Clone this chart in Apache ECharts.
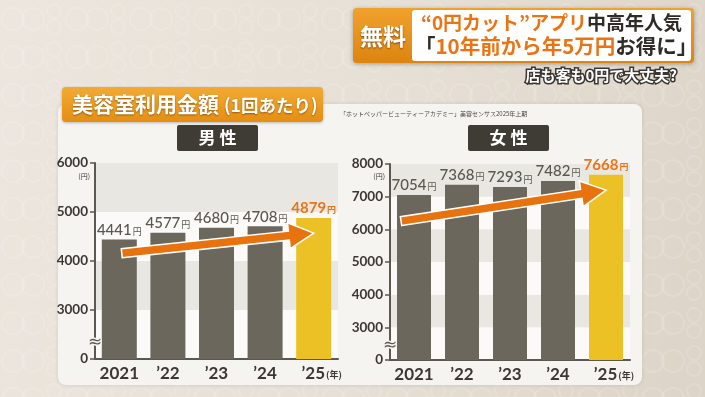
<!DOCTYPE html>
<html>
<head>
<meta charset="utf-8">
<script src="https://cdn.jsdelivr.net/npm/echarts@6.0.0/dist/echarts.min.js"></script>
<style>
  html, body { margin: 0; padding: 0; }
  #chart { width: 705px; height: 397px; }
</style>
</head>
<body>
<div id="chart"></div>
<script>
// data
const categories = ['2021', '’22', '’23', '’24', '’25'];
const maleValues = [4441, 4577, 4680, 4708, 4879];
const femaleValues = [7054, 7368, 7293, 7482, 7668];
const maleTicks = ['0', '3000', '4000', '5000', '6000'];
const femaleTicks = ['0', '3000', '4000', '5000', '6000', '7000', '8000'];
// arrow: [startCategory, startValue, endCategory, endValue, startShift]
const maleArrow = [0, 4160, 4, 4570, 0.05];
const femaleArrow = [0, 6250, 4, 7200, -0.27];

const JP = '"Noto Sans CJK JP", sans-serif';
const NUM = 'Lato, "Noto Sans CJK JP", sans-serif';
const DARK = '#3b3833';
const BAR = '#6b675d';
const YELLOW = '#ecc126';
const ORANGE = '#e8761a';

// faint ring pattern for the page background
const tile = document.createElement('canvas');
tile.width = 64; tile.height = 38;
const tc = tile.getContext('2d');
tc.strokeStyle = 'rgba(255,255,255,0.13)';
tc.lineWidth = 2;
[[13, 19, 11], [33, 19, 11], [54, 11, 7], [54, 27, 7]].forEach(([x, y, r]) => {
  tc.beginPath(); tc.arc(x, y, r, 0, Math.PI * 2); tc.stroke();
});
document.getElementById('chart').style.background =
  'url(' + tile.toDataURL() + '), linear-gradient(100deg, #ece6de 0%, #e6dfd5 55%, #ddd4c8 100%)';

function barSeries(idx, values) {
  return {
    type: 'bar',
    xAxisIndex: idx,
    yAxisIndex: idx,
    barWidth: idx === 0 ? 35 : 34,
    data: values.map((v, i) => {
      const last = i === values.length - 1;
      return {
        value: v,
        itemStyle: { color: last ? YELLOW : BAR },
        label: {
          show: true,
          position: 'top',
          distance: 2,
          formatter: last ? '{n2|{c}}{u2|円}' : '{n|{c}}{u|円}',
          rich: {
            n: { fontFamily: NUM, fontSize: 15, fontWeight: 500, color: '#5a574f' },
            u: { fontFamily: JP, fontSize: 9, color: '#5a574f', padding: [3, 0, 0, 1] },
            n2: { fontFamily: NUM, fontSize: 15, fontWeight: 'bold', color: ORANGE },
            u2: { fontFamily: JP, fontSize: 9, fontWeight: 'bold', color: ORANGE, padding: [3, 0, 0, 1] }
          }
        }
      };
    })
  };
}

function arrowSeries(idx, arrow) {
  return {
    type: 'custom',
    xAxisIndex: idx,
    yAxisIndex: idx,
    z: 5,
    silent: true,
    data: [arrow],
    renderItem: function (params, api) {
      const band = api.size([1, 0])[0];
      const p0 = api.coord([api.value(0), api.value(1)]);
      p0[0] += api.value(4) * band;
      const p1 = api.coord([api.value(2), api.value(3)]);
      const dx = p1[0] - p0[0], dy = p1[1] - p0[1];
      const len = Math.sqrt(dx * dx + dy * dy);
      const ux = dx / len, uy = dy / len;
      const nx = -uy, ny = ux;
      const w = 4.5, hw = 13, hl = 25;
      const bx = p1[0] - ux * hl, by = p1[1] - uy * hl;
      const pts = [
        [p0[0] + nx * w, p0[1] + ny * w],
        [bx + nx * w, by + ny * w],
        [bx + nx * hw, by + ny * hw],
        [p1[0], p1[1]],
        [bx - nx * hw, by - ny * hw],
        [bx - nx * w, by - ny * w],
        [p0[0] - nx * w, p0[1] - ny * w]
      ];
      return {
        type: 'polygon',
        shape: { points: pts },
        style: { fill: '#e8730e', stroke: '#ffffff', lineWidth: 1.5 }
      };
    }
  };
}

function xAxis(idx) {
  return {
    type: 'category',
    gridIndex: idx,
    data: categories,
    axisLine: { lineStyle: { color: '#5b5850', width: 2 } },
    axisTick: { show: false },
    axisLabel: {
      interval: 0,
      margin: 6,
      formatter: (v, i) => i === categories.length - 1 ? '{p|}{b|' + v + '}{s|(年)}' : '{b|' + v + '}',
      rich: {
        b: { fontFamily: NUM, fontSize: 17, fontWeight: 'bold', color: DARK },
        s: { fontFamily: JP, fontSize: 9, fontWeight: 'bold', color: DARK, padding: [3, 0, 0, 1] },
        p: { width: 16 }
      }
    }
  };
}

function yAxis(idx, ticks, max) {
  const min = 2000;
  return {
    type: 'value',
    gridIndex: idx,
    min: min,
    max: max,
    interval: 1000,
    axisLine: { show: true, lineStyle: { color: '#5b5850', width: 2 } },
    axisTick: { show: true, length: 5, lineStyle: { color: '#5b5850', width: 1.5 } },
    axisLabel: {
      margin: 7,
      fontFamily: NUM,
      fontSize: 13.5,
      fontWeight: 'bold',
      color: DARK,
      formatter: v => ticks[Math.round((v - min) / 1000)]
    },
    splitLine: { show: false },
    splitArea: { show: true, areaStyle: { color: ['#fbfaf8', '#e9e7e2'] } }
  };
}

const chart = echarts.init(document.getElementById('chart'), null, { renderer: 'canvas' });
chart.setOption({
  backgroundColor: 'transparent',
  animation: false,
  grid: [
    { left: 95, right: 367, top: 163, bottom: 38 },
    { left: 390, right: 75, top: 164, bottom: 37 }
  ],
  xAxis: [xAxis(0), xAxis(1)],
  yAxis: [yAxis(0, maleTicks, 6000), yAxis(1, femaleTicks, 8000)],
  series: [
    barSeries(0, maleValues),
    barSeries(1, femaleValues),
    arrowSeries(0, maleArrow),
    arrowSeries(1, femaleArrow)
  ],
  graphic: [
    // white panel
    { type: 'rect', z: -10, shape: { x: 58, y: 104, width: 584, height: 281, r: 8 },
      style: { fill: '#f6f4f1', shadowBlur: 4, shadowColor: 'rgba(0,0,0,0.12)' } },
    // title box
    { type: 'rect', z: 10, shape: { x: 62, y: 87, width: 261, height: 35, r: 4 },
      style: { fill: new echarts.graphic.LinearGradient(0, 0, 0, 1, [
        { offset: 0, color: '#f2aa33' }, { offset: 1, color: '#e58e12' }]),
        shadowBlur: 3, shadowOffsetY: 1, shadowColor: 'rgba(0,0,0,0.25)' } },
    { type: 'text', z: 11, x: 72, y: 104,
      style: { text: '{a|美容室利用金額}{b|(1回あたり)}', verticalAlign: 'middle',
        rich: {
          a: { fontFamily: JP, fontSize: 21, fontWeight: 'bold', fill: '#fff',
               textShadowColor: 'rgba(90,50,0,0.6)', textShadowBlur: 2, textShadowOffsetY: 1 },
          b: { fontFamily: JP, fontSize: 17.5, fontWeight: 'bold', fill: '#fff', padding: [2, 0, 0, 5],
               textShadowColor: 'rgba(90,50,0,0.6)', textShadowBlur: 2, textShadowOffsetY: 1 }
        } } },
    // source
    { type: 'text', z: 11, x: 340, y: 114,
      style: { text: '「ホットペッパービューティーアカデミー」美容センサス2025年上期',
        fontFamily: JP, fontSize: 6, fill: '#4a4740', verticalAlign: 'middle' } },
    // section labels
    { type: 'rect', z: 10, shape: { x: 177, y: 125, width: 81, height: 26, r: 2 }, style: { fill: '#3f3c35' } },
    { type: 'text', z: 11, x: 217.5, y: 138,
      style: { text: '男 性', fontFamily: JP, fontSize: 17, fontWeight: 'bold', fill: '#fff', align: 'center', verticalAlign: 'middle' } },
    { type: 'rect', z: 10, shape: { x: 468, y: 125, width: 81, height: 26, r: 2 }, style: { fill: '#3f3c35' } },
    { type: 'text', z: 11, x: 508.5, y: 138,
      style: { text: '女 性', fontFamily: JP, fontSize: 17, fontWeight: 'bold', fill: '#fff', align: 'center', verticalAlign: 'middle' } },
    // unit marks
    { type: 'text', z: 11, x: 90, y: 176,
      style: { text: '(円)', fontFamily: JP, fontSize: 7, fill: DARK, align: 'right', verticalAlign: 'middle' } },
    { type: 'text', z: 11, x: 385, y: 176,
      style: { text: '(円)', fontFamily: JP, fontSize: 7, fill: DARK, align: 'right', verticalAlign: 'middle' } },
    // axis break marks
    { type: 'text', z: 100, x: 95, y: 343,
      style: { text: '≈', fontFamily: 'DejaVu Sans', fontSize: 17, fill: '#5b5850', align: 'center', verticalAlign: 'middle',
        stroke: '#f6f4f1', lineWidth: 3 } },
    { type: 'text', z: 100, x: 390, y: 346,
      style: { text: '≈', fontFamily: 'DejaVu Sans', fontSize: 17, fill: '#5b5850', align: 'center', verticalAlign: 'middle',
        stroke: '#f6f4f1', lineWidth: 3 } },
    // headline banner
    { type: 'rect', z: 10, shape: { x: 353, y: 8, width: 341, height: 55, r: 4 },
      style: { fill: new echarts.graphic.LinearGradient(0, 0, 0, 1, [
        { offset: 0, color: '#f0a22c' }, { offset: 1, color: '#dc8510' }]),
        shadowBlur: 4, shadowOffsetY: 1, shadowColor: 'rgba(0,0,0,0.3)' } },
    { type: 'rect', z: 11, shape: { x: 412, y: 10, width: 279, height: 51, r: 3 }, style: { fill: '#ffffff' } },
    { type: 'text', z: 12, x: 383, y: 36,
      style: { text: '無料', fontFamily: JP, fontSize: 23, fontWeight: 'bold', fill: '#fff', align: 'center', verticalAlign: 'middle',
        textShadowColor: 'rgba(80,40,0,0.7)', textShadowBlur: 2, textShadowOffsetY: 1 } },
    { type: 'text', z: 12, x: 421, y: 23,
      style: { text: '{o|“0円カット”アプリ}{d|中高年人気}', verticalAlign: 'middle',
        rich: {
          o: { fontFamily: JP, fontSize: 19, fontWeight: 'bold', fill: '#ea7414' },
          d: { fontFamily: JP, fontSize: 19, fontWeight: 'bold', fill: '#2f2c28' }
        } } },
    { type: 'text', z: 12, x: 415, y: 46,
      style: { text: '{d|「}{o|10年前から年5万円}{d|お得に」}', verticalAlign: 'middle',
        rich: {
          o: { fontFamily: JP, fontSize: 20.5, fontWeight: 'bold', fill: '#ea7414' },
          d: { fontFamily: JP, fontSize: 20.5, fontWeight: 'bold', fill: '#2f2c28' }
        } } },
    { type: 'text', z: 12, x: 677, y: 75,
      style: { text: '店も客も0円で大丈夫?', fontFamily: JP, fontSize: 15, fontWeight: 'bold', fill: '#fff',
        stroke: '#3a3632', lineWidth: 3, align: 'right', verticalAlign: 'middle' } }
  ]
});

window.addEventListener('resize', () => chart.resize());
</script>
</body>
</html>
